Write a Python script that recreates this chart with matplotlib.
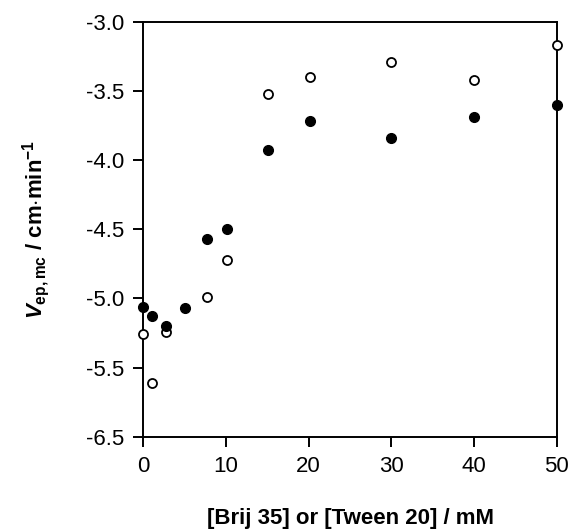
import matplotlib.pyplot as plt

# concentration of surfactant (mM)
conc_filled = [0, 1, 2.7, 5.1, 7.7, 10.1, 15.1, 20.1, 30, 40, 50]
v_filled = [-5.06, -5.13, -5.20, -5.07, -4.57, -4.50, -3.93, -3.72, -3.84, -3.69, -3.60]

conc_open = [0, 1, 2.7, 7.7, 10.1, 15.1, 20.1, 30, 40, 50]
v_open = [-5.26, -5.61, -5.24, -4.99, -4.72, -3.52, -3.40, -3.29, -3.42, -3.17]

yticks = [-3.0, -3.5, -4.0, -4.5, -5.0, -5.5, -6.0]
ytick_labels = ['-3.0', '-3.5', '-4.0', '-4.5', '-5.0', '-5.5', '-6.5']
xticks = [0, 10, 20, 30, 40, 50]

plt.rcParams['font.family'] = ['Liberation Sans', 'DejaVu Sans']
plt.rcParams['mathtext.fontset'] = 'custom'
plt.rcParams['mathtext.rm'] = 'Liberation Sans:bold'
plt.rcParams['mathtext.bf'] = 'Liberation Sans:bold'
plt.rcParams['mathtext.it'] = 'Liberation Sans:bold:italic'

fig = plt.figure(figsize=(5.71, 5.30), dpi=100)
ax = fig.add_axes([0.251, 0.176, 0.724, 0.783])

ax.plot(conc_open, v_open, 'o', mfc='white', mec='black', mew=1.3, ms=6.5, clip_on=False, zorder=3)
ax.plot(conc_filled, v_filled, 'o', color='black', ms=7, clip_on=False, zorder=4)

ax.set_xlim(0, 50)
ax.set_ylim(-6.0, -3.0)
ax.set_xticks(xticks)
ax.set_yticks(yticks)
ax.set_yticklabels(ytick_labels)
for s in ax.spines.values():
    s.set_linewidth(1.4)
ax.tick_params(direction='out', length=7, width=1.4, labelsize=16, pad=7)

ax.set_xlabel('[Brij 35] or [Tween 20] / mM', fontsize=16, fontweight='bold', labelpad=22)
ax.set_ylabel(r'$V_{\mathrm{ep,mc}}$ / cm$\cdot$min$^{\mathrm{-1}}$', fontsize=16,
              fontweight='bold', labelpad=24)

fig.savefig('out.png', dpi=100)
